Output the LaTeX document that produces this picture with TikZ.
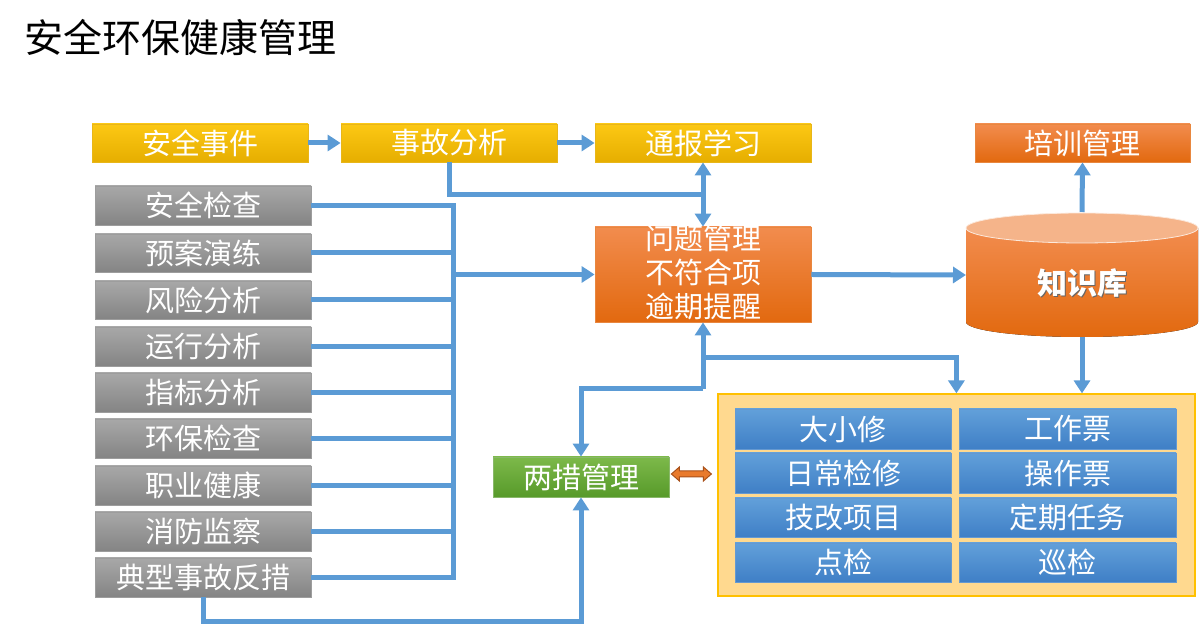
\documentclass[tikz,border=0pt]{standalone}
\usepackage{fontspec}
\setmainfont{Noto Sans CJK SC}
\usetikzlibrary{arrows.meta,fit,calc}
\definecolor{lineblue}{HTML}{5B9BD5}
\definecolor{yTop}{HTML}{FCC814}
\definecolor{yBot}{HTML}{E6AE00}
\definecolor{gTop}{HTML}{A8A8A8}
\definecolor{gBot}{HTML}{848484}
\definecolor{oTop}{HTML}{F28C4E}
\definecolor{oBot}{HTML}{E2690F}
\definecolor{grTop}{HTML}{7DB94A}
\definecolor{grBot}{HTML}{579A2A}
\definecolor{bTop}{HTML}{62A0DA}
\definecolor{bBot}{HTML}{3F7FC6}
\definecolor{contFill}{HTML}{FFD98F}
\definecolor{contLine}{HTML}{FFC000}
\definecolor{cylTop}{HTML}{F5B48A}
\definecolor{daFill}{HTML}{E97A2C}
\definecolor{daLine}{HTML}{A8501A}
\tikzset{
  boxtxt/.style={text=white,font=\fontsize{14.5}{17}\selectfont,inner sep=0pt},
  basebox/.style={inner sep=0pt,line width=0.4pt,label={[boxtxt]center:#1}},
  ybox/.style={basebox=#1,top color=yTop,bottom color=yBot,draw=yBot!90!white},
  gbox/.style={basebox=#1,top color=gTop,bottom color=gBot,draw=gBot!80!white},
  obox/.style={basebox=#1,top color=oTop,bottom color=oBot,draw=oBot!80!white},
  grbox/.style={basebox=#1,top color=grTop,bottom color=grBot,draw=grBot!70!white},
  bbox/.style={basebox=#1,top color=bTop,bottom color=bBot,draw=bBot!80!white},
  conn/.style={draw=lineblue,line width=2.5pt,line join=miter},
  >={Triangle[length=6.5pt,width=8pt]}
}
\begin{document}
\begin{tikzpicture}[x=0.5pt,y=-0.5pt]
\useasboundingbox (0,0) rectangle (1200,624);
% title
\node[anchor=west,font=\fontsize{19.5}{22}\selectfont,inner sep=0pt] (title) at (24,37) {安全环保健康管理};
% yellow row
\node[ybox=安全事件,fit={(92,124) (308,162)}] (e1) {};
\node[ybox=事故分析,fit={(341,124) (557,162)}] (e2) {};
\node[ybox=通报学习,fit={(595,124) (811,162)}] (e3) {};
\node[obox=培训管理,fit={(975,124) (1190,162)}] (px) {};
% gray column
\foreach \t/\a/\b [count=\i] in {安全检查/186/225,预案演练/234/272,风险分析/281/319,运行分析/327/366,指标分析/373/412,环保检查/419/458,职业健康/466/505,消防监察/512/551,典型事故反措/558/597}
  \node[gbox=\t,fit={(95,\a) (311,\b)}] (g\i) {};
% problem management
\node[obox={},fit={(595,227) (811,322)}] (q) {};
\node[boxtxt,align=center] (qt) at (703,272) {问题管理\\不符合项\\逾期提醒};
% two measures
\node[grbox=两措管理,fit={(493,457) (669,497)}] (lc) {};
% container
\node[fill=contFill,draw=contLine,line width=0.6pt,inner sep=0pt,fit={(718,394) (1195,596)}] (cont) {};
\foreach \t/\a/\b [count=\i] in {大小修/409/449,日常检修/453/493,技改项目/498/537,点检/543/582}
  \node[bbox=\t,fit={(735,\a) (951,\b)}] (bl\i) {};
\foreach \t/\a/\b [count=\i] in {工作票/409/449,操作票/453/493,定期任务/498/537,巡检/543/582}
  \node[bbox=\t,fit={(959,\a) (1176,\b)}] (br\i) {};
% cylinder
\fill[top color=oTop,bottom color=oBot] (966,228) -- (966,322) arc[start angle=180,end angle=0,x radius=116,y radius=15] -- (1198,228) -- cycle;
\fill[cylTop] (1082,228) ellipse[x radius=116,y radius=15];
\draw[white!70!cylTop,line width=0.4pt] (1082,228) ellipse[x radius=116,y radius=15];
\node[font=\bfseries\fontsize{15}{17}\selectfont,text=black!60,inner sep=0pt] (kbs) at (1083.5,284.5) {知识库};
\node[font=\bfseries\fontsize{15}{17}\selectfont,text=white,inner sep=0pt] (kb) at (1082,283) {知识库};
\coordinate (kbtop) at (1082,212);
\coordinate (kbbot) at (1082,337);
\coordinate (kbleft) at (966,275);
% connectors
\draw[conn,->] (e1) -- (e2);
\draw[conn,->] (e2) -- (e3);
\coordinate (j1) at (703,195);
\draw[conn] (e2.south) |- (j1);
\draw[conn,<->] (e3.south) -- (q.north);
\coordinate (bus) at (453,0);
\foreach \i in {2,...,8} \draw[conn] (g\i.east) -- (g\i.east -| bus);
\draw[conn] (g1.east) -| (bus |- g9.east) -- (g9.east);
\draw[conn,->] (bus |- q.west) -- (q.west);
\draw[conn,->] (q.east) -- (kbleft);
\draw[conn,->] (kbtop) -- (px.south);
\draw[conn,->] (kbbot) -- (kbbot |- cont.north);
\coordinate (j2) at (703,389);
\coordinate (j3) at (703,358);
\coordinate (cin) at ($(cont.north west)+(239,0)$);
\draw[conn,->] (j2) -- (q.south);
\draw[conn,->] (j2) -| (lc.north);
\draw[conn,->] (j3) -| (cin);
\coordinate (jb) at (203,622);
\draw[conn,->] (g9.south) -- (jb) -| (lc.south);
% double block arrow
\filldraw[fill=daFill,draw=daLine,line width=0.5pt] ($(lc.east)+(2,-3)$) -- ++(8,-7) -- ++(0,4) -- ++(24,0) -- ++(0,-4) -- ++(8,7) -- ++(-8,7) -- ++(0,-4) -- ++(-24,0) -- ++(0,4) -- cycle;
\end{tikzpicture}
\end{document}
